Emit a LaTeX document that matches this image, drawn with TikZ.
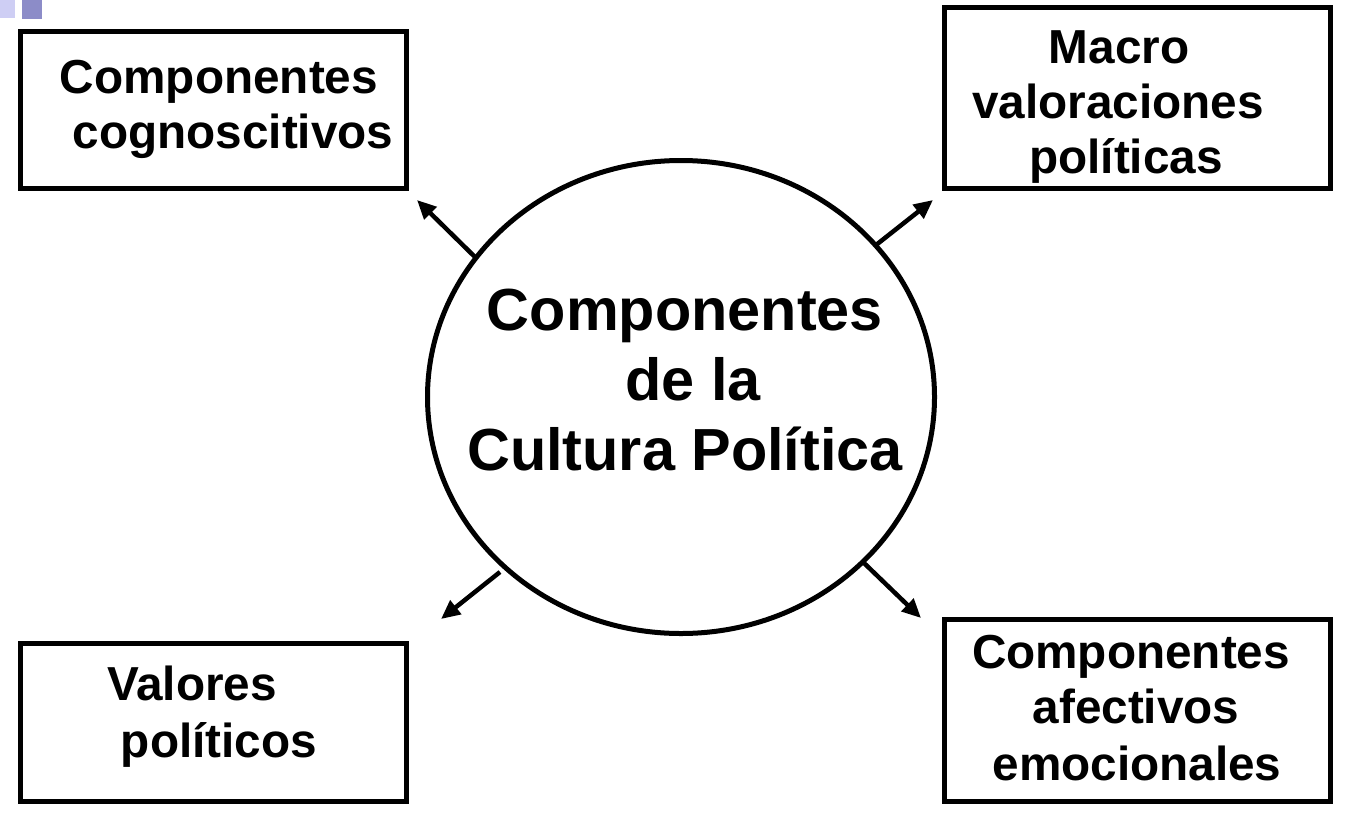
\documentclass[tikz,border=0pt]{standalone}
\usepackage{fontspec}
\setmainfont{Liberation Sans}
\usetikzlibrary{arrows.meta,shapes.geometric}
\tikzset{
  boxstyle/.style={draw=black, line width=5pt, fill=white},
  boxtext/.style={anchor=base, inner sep=0pt, font=\bfseries\fontsize{47.7}{57}\selectfont},
  bigtext/.style={anchor=base, inner sep=0pt, font=\bfseries\fontsize{59.4}{70}\selectfont},
  arr/.style={line width=4.5pt, -{Triangle[length=19pt,width=17pt]}},
}
\begin{document}
\begin{tikzpicture}[x=1pt,y=-1pt]
\useasboundingbox (0,0) rectangle (1356,838);
\fill[white] (0,0) rectangle (1356,838);
% decorative fragment
\fill[black!5!white!85!blue] (0,0) rectangle (15,18);
\fill[color={rgb,255:red,140;green,140;blue,200}] (22,0) rectangle (42,19);
% boxes
\draw[boxstyle] (20,31) rectangle (406,188);
\draw[boxstyle] (944,7) rectangle (1330,188);
\draw[boxstyle] (20,643) rectangle (406,801);
\draw[boxstyle] (944,619) rectangle (1330,801);
% circle
\node[draw, line width=5pt, ellipse, minimum width=507pt, minimum height=473pt, inner sep=0pt] (c) at (681,397) {};
% texts
\node[boxtext] (t1a) at (219,93) {Componentes};
\node[boxtext] (t1b) at (233,148) {cognoscitivos};
\node[boxtext] (t2a) at (1119,63) {Macro};
\node[boxtext] (t2b) at (1118,118) {valoraciones};
\node[boxtext] (t2c) at (1126,173) {políticas};
\node[boxtext] (t3a) at (192,700) {Valores};
\node[boxtext] (t3b) at (219,757) {políticos};
\node[boxtext] (t4a) at (1131,668) {Componentes};
\node[boxtext] (t4b) at (1136,723) {afectivos};
\node[boxtext] (t4c) at (1137,780) {emocionales};
\node[bigtext] (ca) at (685,330) {Componentes};
\node[bigtext] (cb) at (693,400) {de la};
\node[bigtext] (cc) at (685,470) {Cultura Política};
% arrows
\coordinate (e1) at (417,200);
\coordinate (e2) at (933,200);
\coordinate (e3) at (441,619);
\coordinate (e4) at (921,618);
\coordinate (s1) at (476,258);
\coordinate (s2) at (876,245);
\coordinate (s3) at (500,572);
\coordinate (s4) at (864,563);
\draw[arr] (s1) -- (e1);
\draw[arr] (s2) -- (e2);
\draw[arr] (s3) -- (e3);
\draw[arr] (s4) -- (e4);
\end{tikzpicture}
\end{document}
